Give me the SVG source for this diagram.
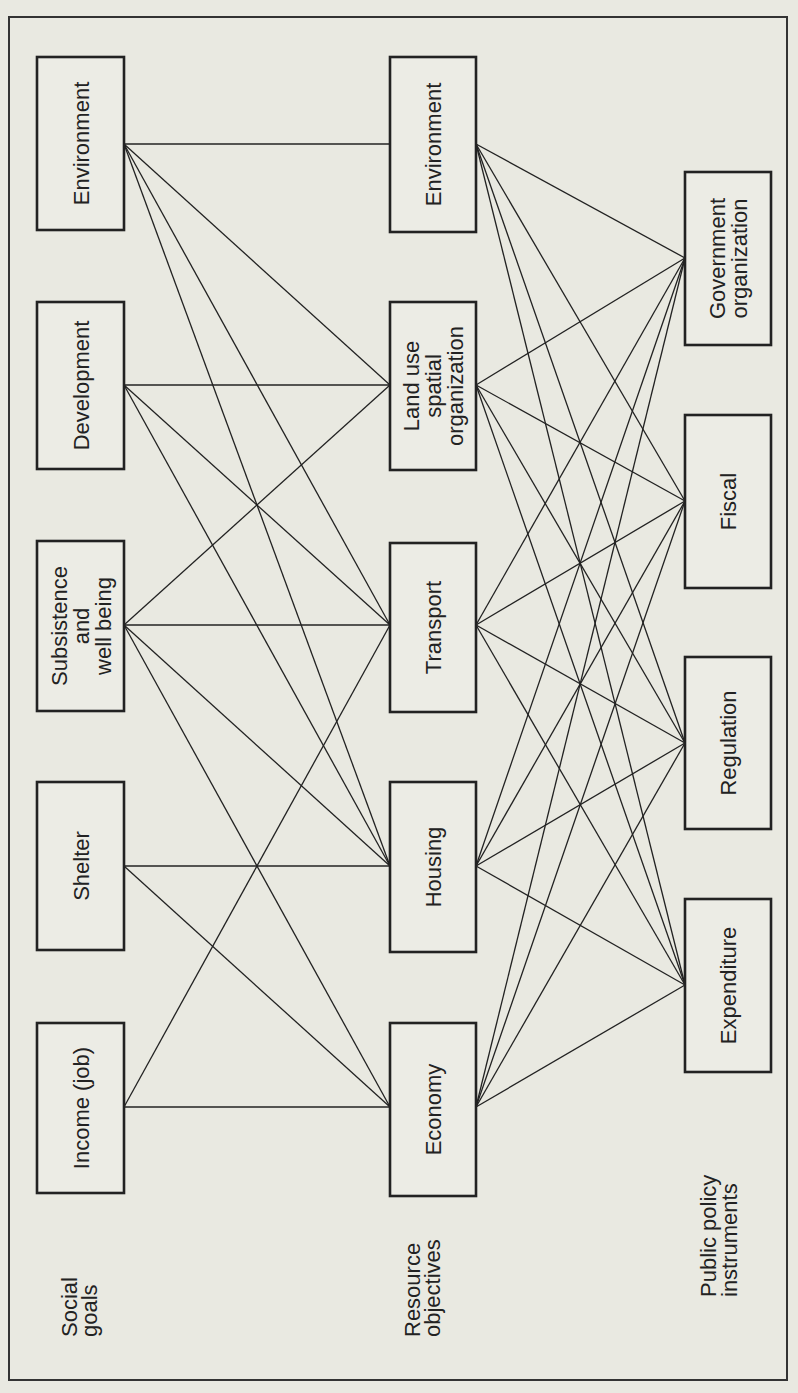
<svg xmlns="http://www.w3.org/2000/svg" width="798" height="1393" viewBox="0 0 798 1393">
<style>
.bg{fill:#e9e9e1}
.frame{fill:none;stroke:#333;stroke-width:2}
.box{fill:#ecece5;stroke:#222;stroke-width:2.6}
.lbl{font-family:"Liberation Sans",Arial,sans-serif;font-size:22px;fill:#222;text-anchor:middle}
.cap{font-family:"Liberation Sans",Arial,sans-serif;font-size:22px;fill:#222;text-anchor:start}
.conn line{stroke:#222;stroke-width:1.3}
</style>
<rect class="bg" x="0" y="0" width="798" height="1393"/>
<rect class="frame" x="9" y="17" width="778" height="1363"/>

<g id="connectors" class="conn">
<!-- social goals to resource objectives -->
<line x1="124" y1="144" x2="390" y2="144"/>
<line x1="124" y1="144" x2="390" y2="385"/>
<line x1="124" y1="144" x2="390" y2="625"/>
<line x1="124" y1="144" x2="390" y2="866"/>
<line x1="124" y1="385" x2="390" y2="385"/>
<line x1="124" y1="385" x2="390" y2="625"/>
<line x1="124" y1="385" x2="390" y2="866"/>
<line x1="124" y1="625" x2="390" y2="385"/>
<line x1="124" y1="625" x2="390" y2="625"/>
<line x1="124" y1="625" x2="390" y2="866"/>
<line x1="124" y1="625" x2="390" y2="1107"/>
<line x1="124" y1="866" x2="390" y2="866"/>
<line x1="124" y1="866" x2="390" y2="1107"/>
<line x1="124" y1="1107" x2="390" y2="625"/>
<line x1="124" y1="1107" x2="390" y2="1107"/>
<!-- resource objectives to instruments -->
<line x1="476" y1="144" x2="685" y2="258"/>
<line x1="476" y1="144" x2="685" y2="501"/>
<line x1="476" y1="144" x2="685" y2="743"/>
<line x1="476" y1="144" x2="685" y2="985"/>
<line x1="476" y1="385" x2="685" y2="258"/>
<line x1="476" y1="385" x2="685" y2="501"/>
<line x1="476" y1="385" x2="685" y2="743"/>
<line x1="476" y1="385" x2="685" y2="985"/>
<line x1="476" y1="625" x2="685" y2="258"/>
<line x1="476" y1="625" x2="685" y2="501"/>
<line x1="476" y1="625" x2="685" y2="743"/>
<line x1="476" y1="625" x2="685" y2="985"/>
<line x1="476" y1="866" x2="685" y2="258"/>
<line x1="476" y1="866" x2="685" y2="501"/>
<line x1="476" y1="866" x2="685" y2="743"/>
<line x1="476" y1="866" x2="685" y2="985"/>
<line x1="476" y1="1107" x2="685" y2="258"/>
<line x1="476" y1="1107" x2="685" y2="501"/>
<line x1="476" y1="1107" x2="685" y2="743"/>
<line x1="476" y1="1107" x2="685" y2="985"/>
</g>

<!-- Social goals column -->
<g id="sg-environment">
<rect class="box" x="37" y="57" width="87" height="173"/>
<text class="lbl" transform="translate(80.5,143.5) rotate(-90)" y="8">Environment</text>
</g>
<g id="sg-development">
<rect class="box" x="37" y="302" width="87" height="167"/>
<text class="lbl" transform="translate(80.5,385.5) rotate(-90)" y="8">Development</text>
</g>
<g id="sg-subsistence">
<rect class="box" x="37" y="541" width="87" height="170"/>
<text class="lbl" transform="translate(80.5,626) rotate(-90)"><tspan x="0" y="-14">Subsistence</tspan><tspan x="0" y="8">and</tspan><tspan x="0" y="30">well being</tspan></text>
</g>
<g id="sg-shelter">
<rect class="box" x="37" y="782" width="87" height="168"/>
<text class="lbl" transform="translate(80.5,866) rotate(-90)" y="8">Shelter</text>
</g>
<g id="sg-income">
<rect class="box" x="37" y="1023" width="87" height="170"/>
<text class="lbl" transform="translate(80.5,1108) rotate(-90)" y="8">Income (job)</text>
</g>

<!-- Resource objectives column -->
<g id="ro-environment">
<rect class="box" x="390" y="57" width="86" height="175"/>
<text class="lbl" transform="translate(433,144.5) rotate(-90)" y="8">Environment</text>
</g>
<g id="ro-landuse">
<rect class="box" x="390" y="302" width="86" height="168"/>
<text class="lbl" transform="translate(433,386) rotate(-90)"><tspan x="0" y="-14">Land use</tspan><tspan x="0" y="8">spatial</tspan><tspan x="0" y="30">organization</tspan></text>
</g>
<g id="ro-transport">
<rect class="box" x="390" y="543" width="86" height="169"/>
<text class="lbl" transform="translate(433,627.5) rotate(-90)" y="8">Transport</text>
</g>
<g id="ro-housing">
<rect class="box" x="390" y="782" width="86" height="170"/>
<text class="lbl" transform="translate(433,867) rotate(-90)" y="8">Housing</text>
</g>
<g id="ro-economy">
<rect class="box" x="390" y="1023" width="86" height="173"/>
<text class="lbl" transform="translate(433,1109.5) rotate(-90)" y="8">Economy</text>
</g>

<!-- Public policy instruments column -->
<g id="pi-government">
<rect class="box" x="685" y="172" width="86" height="173"/>
<text class="lbl" transform="translate(728,258.5) rotate(-90)"><tspan x="0" y="-3">Government</tspan><tspan x="0" y="19">organization</tspan></text>
</g>
<g id="pi-fiscal">
<rect class="box" x="685" y="415" width="86" height="173"/>
<text class="lbl" transform="translate(728,501.5) rotate(-90)" y="8">Fiscal</text>
</g>
<g id="pi-regulation">
<rect class="box" x="685" y="657" width="86" height="172"/>
<text class="lbl" transform="translate(728,743) rotate(-90)" y="8">Regulation</text>
</g>
<g id="pi-expenditure">
<rect class="box" x="685" y="899" width="86" height="173"/>
<text class="lbl" transform="translate(728,985.5) rotate(-90)" y="8">Expenditure</text>
</g>

<!-- Column captions -->
<g id="cap-social">
<text class="cap" transform="translate(0,1337) rotate(-90)"><tspan x="0" y="77">Social</tspan><tspan x="0" y="97">goals</tspan></text>
</g>
<g id="cap-resource">
<text class="cap" transform="translate(0,1337) rotate(-90)"><tspan x="0" y="420">Resource</tspan><tspan x="0" y="440">objectives</tspan></text>
</g>
<g id="cap-public">
<text class="cap" transform="translate(0,1297) rotate(-90)"><tspan x="0" y="716">Public policy</tspan><tspan x="0" y="737">instruments</tspan></text>
</g>
</svg>
